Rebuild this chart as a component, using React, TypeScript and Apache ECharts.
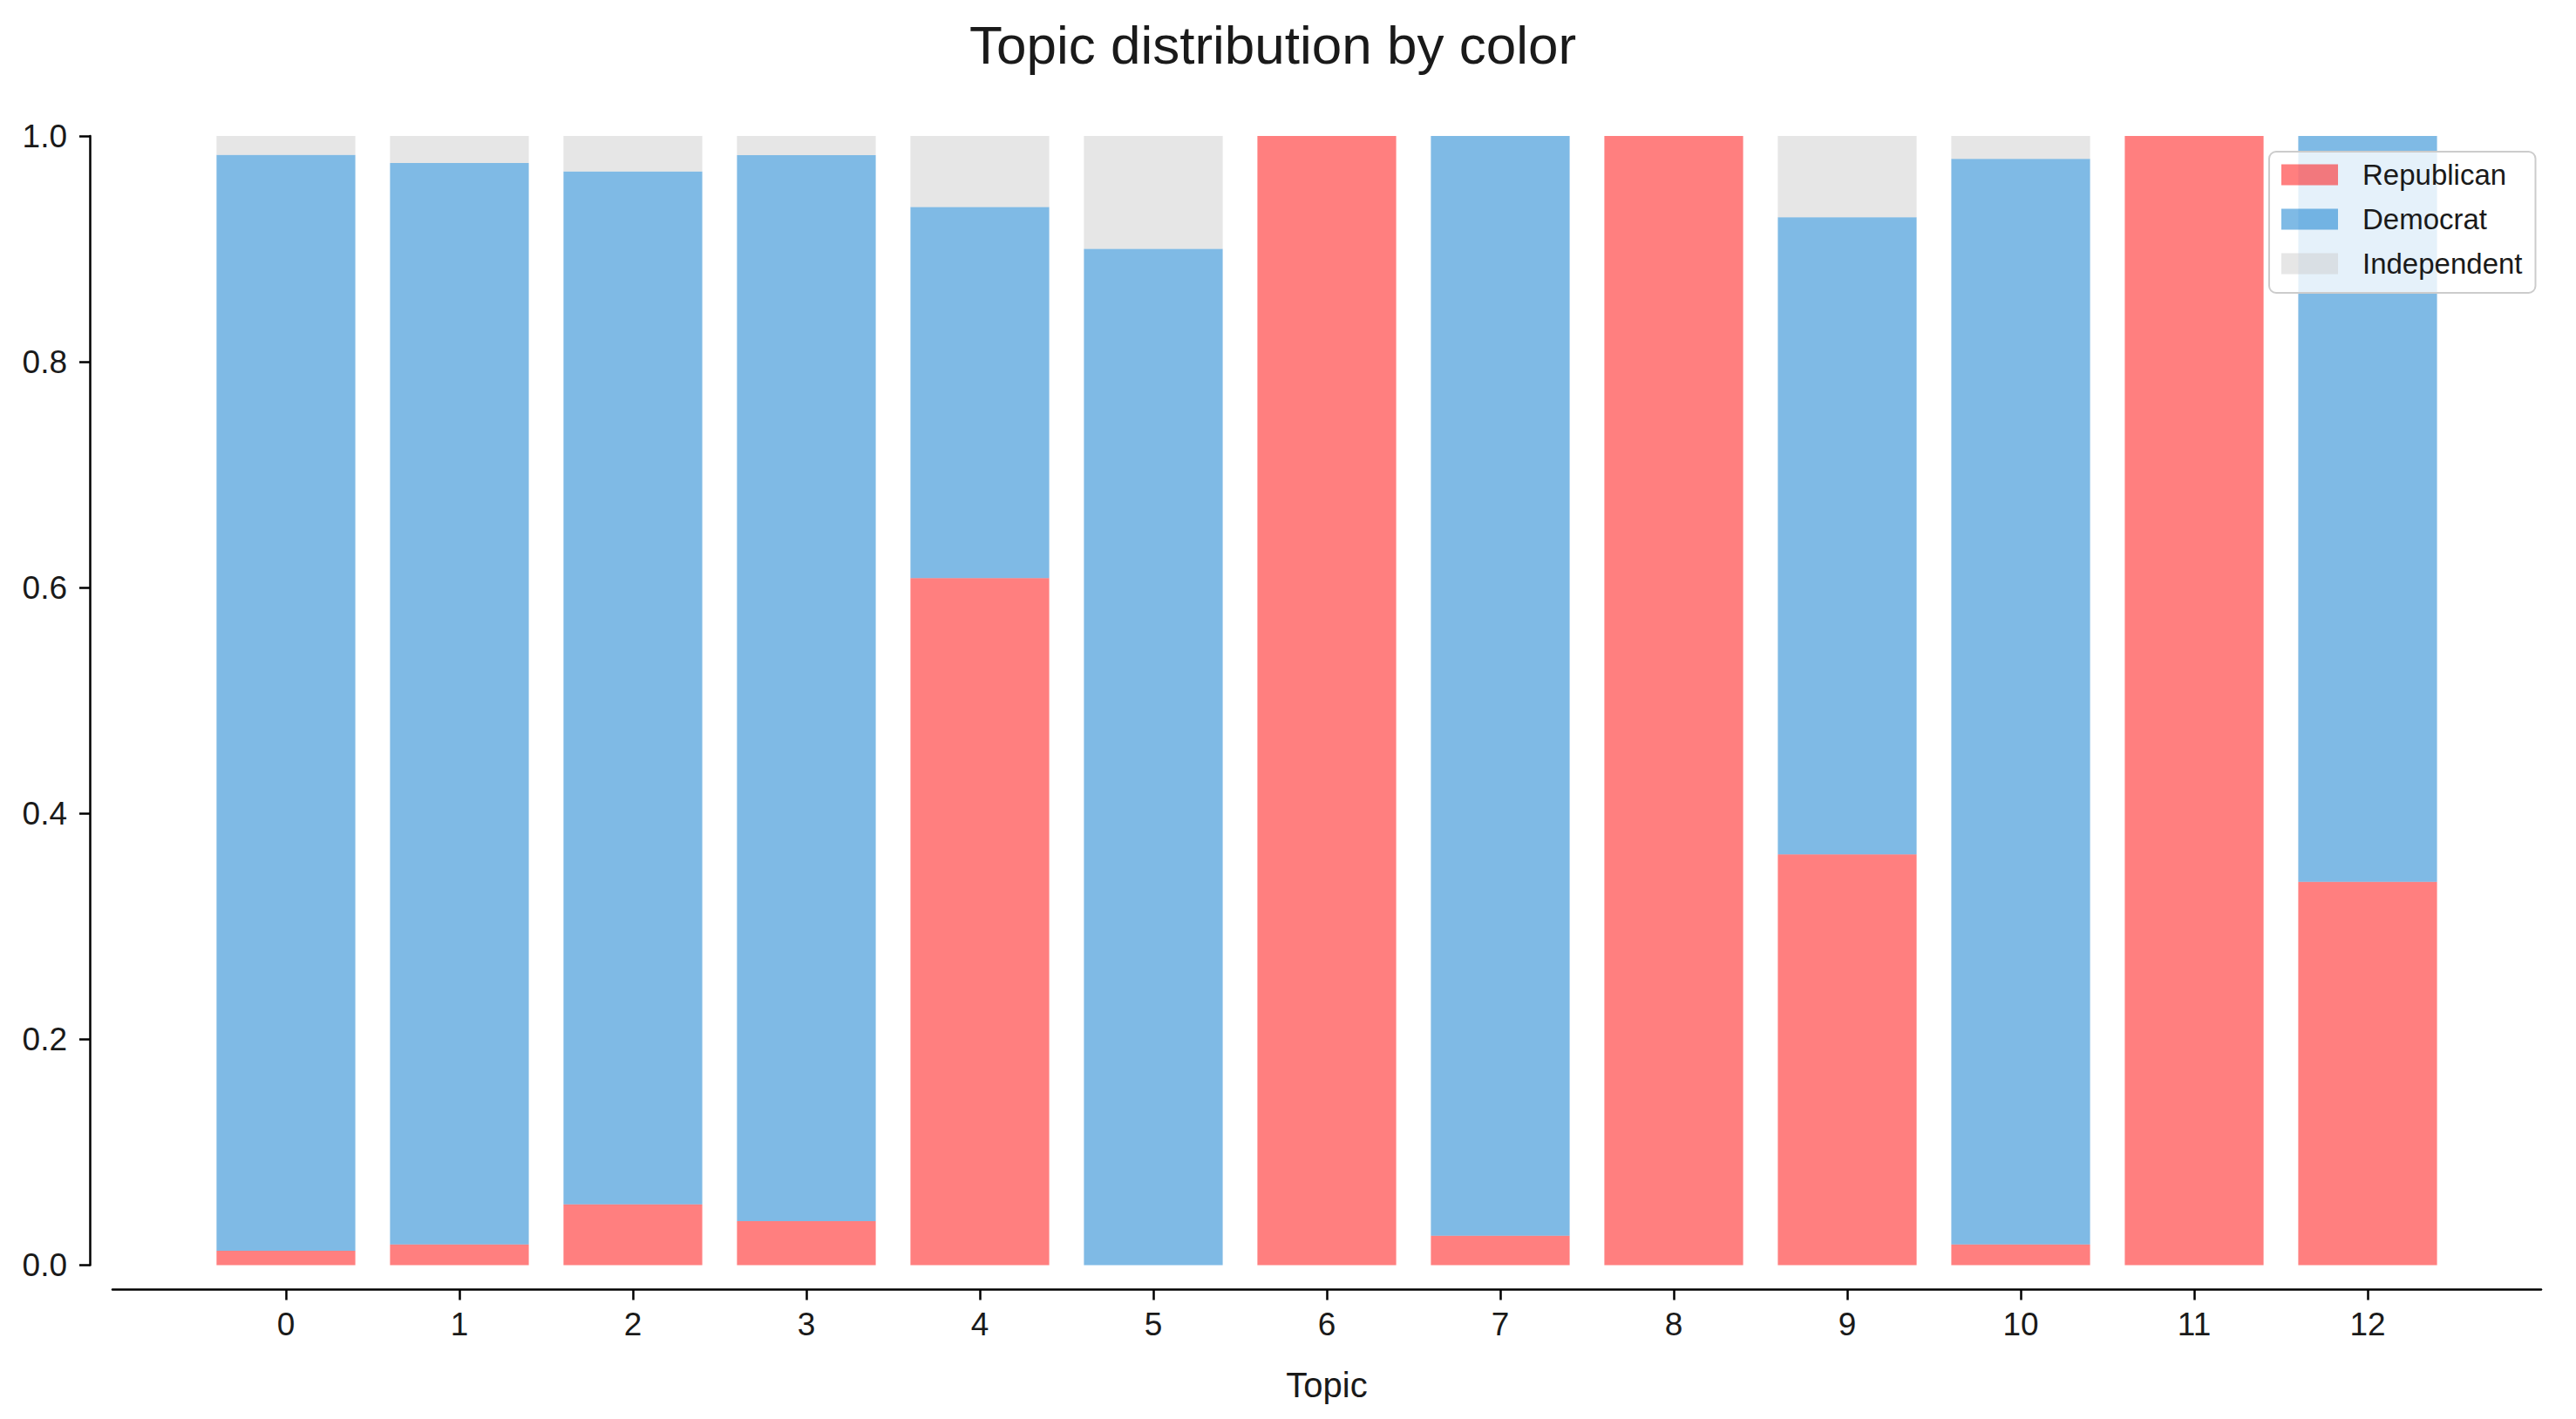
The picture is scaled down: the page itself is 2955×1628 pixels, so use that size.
import React, { useEffect, useRef } from "react";
import * as echarts from "echarts";

const topics: number[] = [0, 1, 2, 3, 4, 5, 6, 7, 8, 9, 10, 11, 12];
const republican: number[] = [0.0127, 0.0184, 0.0539, 0.039, 0.6084, 0, 1.0, 0.0261, 1.0, 0.3637, 0.0184, 1.0, 0.3395];
const democrat: number[] = [0.9706, 0.9576, 0.9147, 0.944, 0.3286, 0.9, 0, 0.9739, 0, 0.5643, 0.9613, 0, 0.6605];
const independent: number[] = [0.0167, 0.024, 0.0314, 0.017, 0.063, 0.1, 0, 0, 0, 0.072, 0.0203, 0, 0];
const yTicks: number[] = [0, 0.2, 0.4, 0.6, 0.8, 1.0];

const seriesNames = ["Republican", "Democrat", "Independent"];
const seriesColors = ["rgba(255,0,0,0.5)", "rgba(0,117,203,0.5)", "rgba(205,205,205,0.5)"];

const FONT = "'Liberation Sans', Arial, Helvetica, sans-serif";
const TEXT = "#1a1a1a";

export default function App() {
  const ref = useRef<HTMLDivElement>(null);
  useEffect(() => {
    if (!ref.current) return;
    const chart = echarts.init(ref.current, undefined, { renderer: "svg" });
    const values = [republican, democrat, independent];
    chart.setOption({
      animation: false,
      backgroundColor: "#ffffff",
      title: {
        text: "Topic distribution by color",
        left: 1460,
        top: 20,
        padding: 0,
        textAlign: "center",
        textStyle: { fontFamily: FONT, fontSize: 62, fontWeight: "normal", color: TEXT },
      },
      legend: {
        orient: "vertical",
        left: 2603,
        top: 174,
        padding: [10, 15, 17, 14],
        itemWidth: 65,
        itemHeight: 24,
        itemGap: 18,
        icon: "rect",
        backgroundColor: "rgba(255,255,255,0.8)",
        borderColor: "#cccccc",
        borderWidth: 2,
        borderRadius: 8,
        textStyle: {
          fontFamily: FONT,
          fontSize: 33,
          color: TEXT,
          padding: [0, 0, 0, 23],
        },
        data: seriesNames,
      },
      grid: { left: 129, right: 40, top: 156, bottom: 176.5, containLabel: false },
      xAxis: {
        type: "value",
        min: -1,
        max: 13,
        interval: 1,
        offset: 28,
        name: "Topic",
        nameLocation: "middle",
        nameGap: 89,
        nameTextStyle: { fontFamily: FONT, fontSize: 40, color: TEXT },
        axisLine: { show: true, onZero: false, lineStyle: { color: "#000000", width: 2.5 } },
        axisTick: { show: true, length: 12, lineStyle: { color: "#000000", width: 2.5 }, customValues: topics },
        axisLabel: {
          fontFamily: FONT,
          fontSize: 37,
          color: TEXT,
          margin: 21,
          customValues: topics,
          formatter: (v: number) => String(v),
        },
        splitLine: { show: false },
      },
      yAxis: {
        type: "value",
        min: 0,
        max: 1,
        interval: 0.2,
        offset: 26,
        axisLine: { show: true, onZero: false, lineStyle: { color: "#000000", width: 2.5 } },
        axisTick: { show: true, length: 12, lineStyle: { color: "#000000", width: 2.5 }, customValues: yTicks },
        axisLabel: {
          fontFamily: FONT,
          fontSize: 37,
          color: TEXT,
          margin: 26,
          customValues: yTicks,
          formatter: (v: number) => v.toFixed(1),
        },
        splitLine: { show: false },
      },
      series: seriesNames.map((name, i) => ({
        name,
        type: "bar",
        stack: "total",
        barWidth: "80%",
        itemStyle: { color: seriesColors[i] },
        encode: { x: 1, y: 0 },
        data: topics.map((t, j) => [values[i][j], t]),
      })),
    });
    return () => chart.dispose();
  }, []);
  return (
    <div
      ref={ref}
      style={{ position: "fixed", left: 0, top: 0, width: 2955, height: 1628, background: "#fff" }}
    />
  );
}
